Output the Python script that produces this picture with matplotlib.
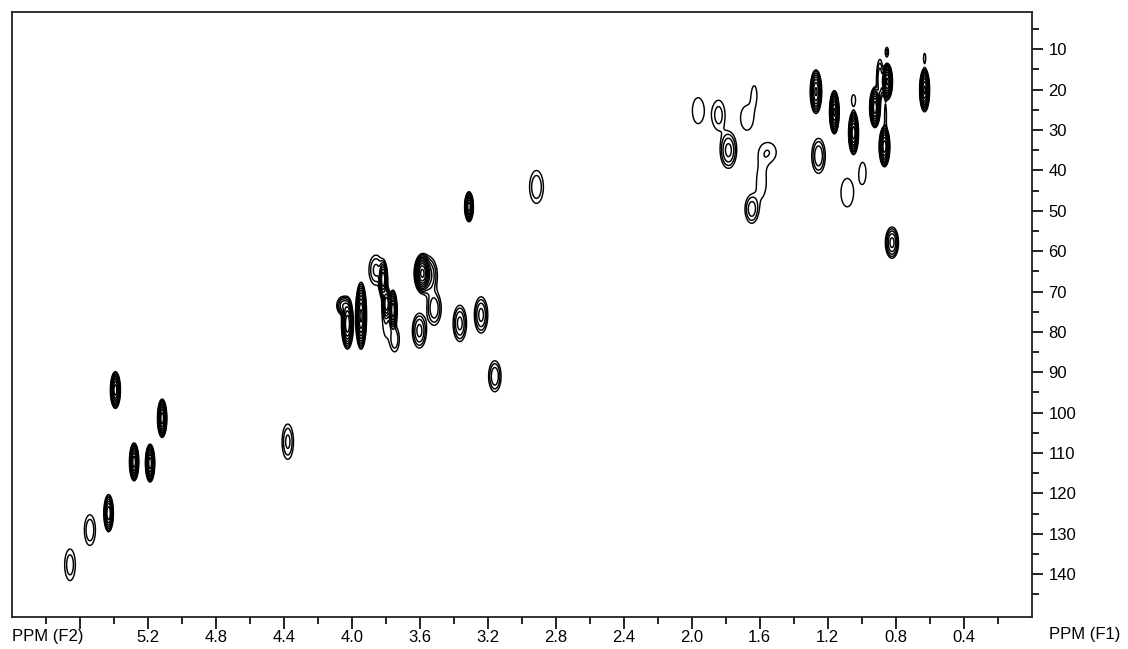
import numpy as np
import matplotlib
matplotlib.use("Agg")
import matplotlib.pyplot as plt

plt.rcParams['font.family'] = ['Liberation Sans', 'DejaVu Sans']

# HSQC cross peaks: 1H shift (F2, ppm), 13C shift (F1, ppm), intensity, widths
peak_h = [5.39, 5.115, 5.28, 5.186, 5.43, 5.54, 5.657, 4.376,
          4.025, 4.05, 3.945, 3.857, 3.815, 3.795, 3.757, 3.747, 3.80,
          3.585, 3.55, 3.515, 3.602, 3.364, 3.239, 3.158, 2.913, 3.31,
          1.962, 1.842, 1.784, 1.675, 1.632, 1.55, 1.59, 1.647,
          1.269, 1.254, 1.161, 1.048, 1.048, 0.994, 1.085,
          0.922, 0.893, 0.85, 0.852, 0.866, 0.86, 0.822, 0.63, 0.63]
peak_c = [94.4, 101.4, 112.2, 112.5, 124.9, 129.1, 137.7, 107.2,
          78.0, 73.5, 76.0, 64.7, 67.0, 73.0, 74.6, 81.8, 76.0,
          65.5, 66.0, 74.2, 79.7, 77.9, 75.8, 91.0, 44.1, 49.0,
          25.2, 26.3, 35.0, 27.0, 21.0, 35.5, 43.0, 49.6,
          20.5, 36.4, 25.6, 22.6, 30.7, 40.6, 45.5,
          24.4, 17.5, 18.0, 10.7, 34.1, 26.5, 57.9, 20.1, 12.2]
peak_amp = [60, 60, 60, 60, 25, 2.5, 2.2, 3,
            40, 6, 80, 3, 25, 15, 40, 2.5, 1.6,
            80, 5, 4, 5, 5, 5, 4, 2.5, 60,
            1.52, 2, 5, 1.55, 1.3, 1.55, 1.55, 3.5,
            30, 4, 80, 1.5, 60, 1.5, 1.5,
            60, 4, 80, 2, 60, 1.5, 8, 80, 1.5]
peak_wh = [0.0103, 0.0096, 0.0096, 0.0096, 0.0111, 0.024, 0.025, 0.0226,
           0.013, 0.02, 0.011, 0.028, 0.010, 0.010, 0.009, 0.02, 0.02,
           0.016, 0.03, 0.025, 0.023, 0.022, 0.022, 0.022, 0.03, 0.009,
           0.037, 0.032, 0.027, 0.04, 0.018, 0.05, 0.03, 0.025,
           0.013, 0.024, 0.0096, 0.013, 0.0103, 0.021, 0.041,
           0.011, 0.012, 0.0105, 0.008, 0.011, 0.006, 0.019, 0.0099, 0.007]
peak_wc = [1.59, 1.66, 1.64, 1.64, 1.81, 2.8, 3.1, 2.94,
           2.3, 1.2, 2.8, 2.5, 1.8, 1.6, 1.8, 2.3, 5.0,
           1.6, 2.6, 2.5, 2.4, 2.5, 2.5, 2.3, 3.0, 1.3,
           3.5, 3.1, 2.5, 3.2, 2.5, 2.5, 3.8, 2.2,
           2.07, 2.6, 1.81, 1.5, 1.87, 2.8, 3.9,
           1.75, 3.0, 1.53, 1.0, 1.75, 3.0, 1.9, 1.82, 1.3]

x_major = [5.6, 5.2, 4.8, 4.4, 4.0, 3.6, 3.2, 2.8, 2.4, 2.0, 1.6, 1.2, 0.8, 0.4]
x_labels = ['', '5.2', '4.8', '4.4', '4.0', '3.6', '3.2', '2.8', '2.4', '2.0',
            '1.6', '1.2', '0.8', '0.4']
x_minor = [5.8, 5.4, 5.0, 4.6, 4.2, 3.8, 3.4, 3.0, 2.6, 2.2, 1.8, 1.4, 1.0, 0.6, 0.2]
y_major = [10, 20, 30, 40, 50, 60, 70, 80, 90, 100, 110, 120, 130, 140]
y_minor = [5, 15, 25, 35, 45, 55, 65, 75, 85, 95, 105, 115, 125, 135, 145]

# spectrum surface built from the peak list
xg = np.linspace(0.0, 6.0, 2400)
yg = np.linspace(0.0, 152.0, 1200)
Z = np.zeros((yg.size, xg.size))
for h, c, a, wh, wc in zip(peak_h, peak_c, peak_amp, peak_wh, peak_wc):
    gx = np.exp(-0.5 * ((xg - h) / wh) ** 2)
    gy = np.exp(-0.5 * ((yg - c) / wc) ** 2)
    Z += a * np.outer(gy, gx)

levels = 1.6 ** np.arange(13)

W, H = 1128, 649
fig = plt.figure(figsize=(W / 100, H / 100), dpi=100)
left, right, top, bottom = 11.7, 1031.7, 11.7, 616.7
ax = fig.add_axes([left / W, 1 - bottom / H, (right - left) / W, (bottom - top) / H])
ax.contour(xg, yg, Z, levels=levels, colors='black', linewidths=1.05)

ax.set_xlim(6.0, 0.0)
ax.set_ylim(150.55, 0.69)

ax.set_xticks(x_major)
ax.set_xticklabels(x_labels)
ax.set_xticks(x_minor, minor=True)
ax.yaxis.tick_right()
ax.set_yticks(y_major)
ax.set_yticklabels([str(v) for v in y_major])
ax.set_yticks(y_minor, minor=True)

ax.tick_params(axis='x', which='major', direction='out', length=8.5, width=1.2,
               pad=1, labelsize=12)
ax.tick_params(axis='x', which='minor', direction='out', length=5, width=1.2)
ax.tick_params(axis='y', which='major', direction='out', length=8, width=1.2,
               pad=4, labelsize=12, right=True, left=False)
ax.tick_params(axis='y', which='minor', direction='out', length=5, width=1.2,
               right=True, left=False)
for s in ax.spines.values():
    s.set_linewidth(1.3)
    s.set_color('#222222')

fig.text(12.5 / W, 1 - 636 / H, 'PPM (F2)', fontsize=12, ha='left', va='center')
fig.text(1049 / W, 1 - 635 / H, 'PPM (F1)', fontsize=12, ha='left', va='center')

fig.savefig('out.png', dpi=100, facecolor='white')
